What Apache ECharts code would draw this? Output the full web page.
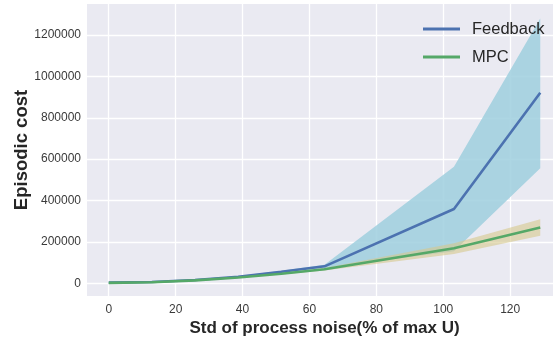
<!DOCTYPE html>
<html>
<head>
<meta charset="utf-8">
<script src="https://cdn.jsdelivr.net/npm/echarts@6/dist/echarts.min.js"></script>
<style>html,body{margin:0;padding:0;background:#fff;}#c{width:553px;height:343px;}</style>
</head>
<body>
<div id="c"></div>
<script>
const noiseStd = [0, 12.9, 25.8, 38.7, 51.6, 64.5, 103.2, 129];
const feedback = [3000, 6000, 16000, 32000, 56000, 82000, 359000, 921000];
const feedbackLower = [2000, 5000, 14000, 29000, 51000, 74000, 155000, 556000];
const feedbackUpper = [4000, 7000, 18000, 35000, 61000, 90000, 563000, 1280000];
const mpc = [2000, 5000, 14000, 28000, 46000, 68000, 169000, 270000];
const mpcLower = [1500, 4000, 12500, 25000, 42000, 62000, 141000, 230000];
const mpcUpper = [2500, 6000, 15500, 31000, 50000, 74000, 193000, 310000];
const xTicks = [0, 20, 40, 60, 80, 100, 120];
const yTicks = [0, 200000, 400000, 600000, 800000, 1000000, 1200000];

const pairs = (arr) => noiseStd.map((x, i) => [x, arr[i]]);

function bandSeries(name, lower, upper, fill, opacity, z) {
  return {
    name: name, type: 'custom', z: z, silent: true,
    data: noiseStd.map((x, i) => [x, lower[i], upper[i]]),
    encode: {x: 0, y: [1, 2]},
    renderItem: function (params, api) {
      if (params.dataIndex !== 0) return null;
      const pts = [];
      for (let i = 0; i < noiseStd.length; i++) pts.push(api.coord([noiseStd[i], upper[i]]));
      for (let i = noiseStd.length - 1; i >= 0; i--) pts.push(api.coord([noiseStd[i], lower[i]]));
      return {type: 'polygon', shape: {points: pts}, style: {fill: fill, opacity: opacity}};
    }
  };
}

const chart = echarts.init(document.getElementById('c'), null, {renderer: 'canvas'});
const tickFont = {fontFamily: 'Liberation Sans', fontSize: 12, color: '#3a3a3a'};
chart.setOption({
  animation: false,
  backgroundColor: '#ffffff',
  grid: {left: 87, right: -9, top: 4, bottom: 47, show: true, backgroundColor: '#EAEAF2', borderWidth: 0,
    containLabel: false, outerBoundsMode: 'none'},
  legend: {
    data: ['Feedback', 'MPC'],
    orient: 'vertical',
    left: 418, top: 15,
    icon: 'rect', itemWidth: 37, itemHeight: 3, itemGap: 10,
    textStyle: {fontFamily: 'Liberation Sans', fontSize: 16.5, color: '#262626', lineHeight: 18, padding: [0, 0, 0, 7]}
  },
  xAxis: {
    type: 'value', min: -6.5, max: 135.5,
    name: 'Std of process noise(% of max U)', nameLocation: 'middle', nameGap: 24, nameMoveOverlap: false,
    nameTextStyle: {fontFamily: 'Liberation Sans', fontWeight: 'bold', fontSize: 17, color: '#262626'},
    axisLine: {show: false}, axisTick: {show: false, customValues: xTicks},
    axisLabel: Object.assign({customValues: xTicks, margin: 8, formatter: (v) => String(v)}, tickFont),
    splitLine: {show: true, lineStyle: {color: '#ffffff', width: 1.3}}
  },
  yAxis: {
    type: 'value', min: -61400, max: 1349800,
    name: 'Episodic cost', nameLocation: 'middle', nameGap: 56, nameRotate: 90, nameMoveOverlap: false,
    nameTextStyle: {fontFamily: 'Liberation Sans', fontWeight: 'bold', fontSize: 18.5, color: '#262626'},
    axisLine: {show: false}, axisTick: {show: false, customValues: yTicks},
    axisLabel: Object.assign({customValues: yTicks, margin: 6, formatter: (v) => String(v)}, tickFont),
    splitLine: {show: true, lineStyle: {color: '#ffffff', width: 1.3}}
  },
  series: [
    bandSeries('fbBand', feedbackLower, feedbackUpper, '#9fcfde', 0.85, 1),
    bandSeries('mpcBand', mpcLower, mpcUpper, 'rgb(214,200,140)', 0.6, 2),
    {name: 'Feedback', type: 'line', data: pairs(feedback), symbol: 'none', color: '#4C72B0', lineStyle: {width: 2.6, color: '#4C72B0'}, z: 3},
    {name: 'MPC', type: 'line', data: pairs(mpc), symbol: 'none', color: '#55A868', lineStyle: {width: 2.6, color: '#55A868'}, z: 4}
  ]
});
</script>
</body>
</html>
